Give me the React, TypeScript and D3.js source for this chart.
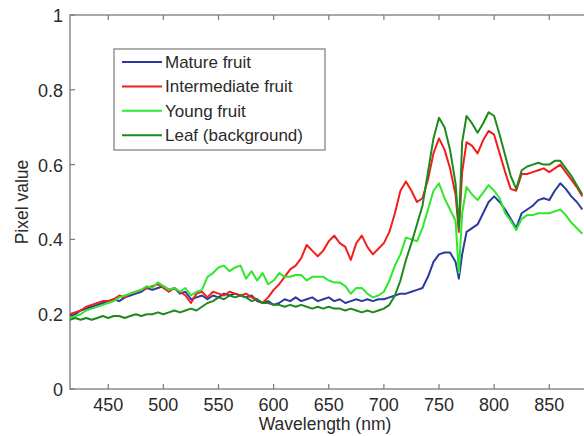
import React from "react";
import * as d3 from "d3";

const wavelengths = [
  415, 420, 425, 430, 435, 440, 445, 450, 455, 460, 465, 470, 475, 480, 485, 490, 495, 500,
  505, 510, 515, 520, 525, 530, 535, 540, 545, 550, 555, 560, 565, 570, 575, 580, 585, 590,
  595, 600, 605, 610, 615, 620, 625, 630, 635, 640, 645, 650, 655, 660, 665, 670, 675, 680,
  685, 690, 695, 700, 705, 710, 715, 720, 725, 730, 735, 740, 745, 750, 755, 760, 765, 768,
  771, 775, 780, 785, 790, 795, 800, 805, 810, 815, 820, 825, 830, 835, 840, 845, 850, 855,
  860, 865, 870, 875, 880,
];

const mature = [
  0.195, 0.2, 0.21, 0.215, 0.22, 0.225, 0.23, 0.235, 0.24, 0.235, 0.245, 0.25, 0.255, 0.26, 0.27, 0.265, 0.27, 0.275,
  0.265, 0.27, 0.255, 0.26, 0.24, 0.245, 0.25, 0.24, 0.25, 0.245, 0.255, 0.25, 0.255, 0.25, 0.245, 0.25, 0.235, 0.23,
  0.235, 0.225, 0.23, 0.24, 0.235, 0.245, 0.235, 0.24, 0.245, 0.235, 0.24, 0.245, 0.235, 0.24, 0.23, 0.235, 0.24, 0.235,
  0.24, 0.235, 0.24, 0.24, 0.245, 0.25, 0.255, 0.255, 0.26, 0.265, 0.27, 0.3, 0.34, 0.36, 0.365, 0.365, 0.34, 0.295,
  0.36, 0.42, 0.43, 0.44, 0.47, 0.5, 0.515, 0.5, 0.48, 0.455, 0.43, 0.47, 0.48, 0.49, 0.505, 0.51, 0.505, 0.53,
  0.55, 0.535, 0.515, 0.5, 0.48,
];

const intermediate = [
  0.2, 0.205, 0.21, 0.22, 0.225, 0.23, 0.235, 0.235, 0.24, 0.25, 0.245, 0.255, 0.26, 0.265, 0.27, 0.275, 0.28, 0.27,
  0.26, 0.27, 0.26, 0.25, 0.23, 0.255, 0.26, 0.245, 0.26, 0.255, 0.25, 0.26, 0.255, 0.25, 0.255, 0.245, 0.24, 0.23,
  0.245, 0.265, 0.28, 0.3, 0.32, 0.33, 0.35, 0.385, 0.37, 0.355, 0.37, 0.395, 0.41, 0.39, 0.38, 0.345, 0.39, 0.41,
  0.38, 0.36, 0.375, 0.39, 0.42, 0.47, 0.53, 0.555, 0.53, 0.5, 0.51, 0.56, 0.63, 0.67, 0.64, 0.59, 0.52, 0.42,
  0.58, 0.66, 0.65, 0.63, 0.665, 0.69, 0.68, 0.63, 0.58, 0.535, 0.53, 0.575, 0.575, 0.58, 0.585, 0.59, 0.58, 0.59,
  0.6, 0.58, 0.56, 0.54, 0.515,
];

const young = [
  0.19, 0.195, 0.2, 0.21, 0.215, 0.22, 0.225, 0.23, 0.235, 0.245, 0.25, 0.255, 0.26, 0.265, 0.275, 0.27, 0.285, 0.275,
  0.265, 0.27, 0.26, 0.27, 0.25, 0.26, 0.265, 0.3, 0.31, 0.325, 0.33, 0.315, 0.325, 0.33, 0.295, 0.315, 0.29, 0.31,
  0.28, 0.29, 0.31, 0.3, 0.3, 0.305, 0.305, 0.29, 0.3, 0.3, 0.3, 0.29, 0.285, 0.285, 0.275, 0.255, 0.27, 0.27,
  0.255, 0.245, 0.25, 0.26, 0.29, 0.33, 0.36, 0.405, 0.4, 0.395, 0.43, 0.48, 0.53, 0.55, 0.51, 0.48, 0.45, 0.31,
  0.47, 0.54, 0.52, 0.505, 0.525, 0.545, 0.53, 0.51, 0.47, 0.45, 0.425, 0.455, 0.465, 0.465, 0.47, 0.47, 0.47, 0.475,
  0.48, 0.465, 0.445, 0.43, 0.415,
];

const leaf = [
  0.185, 0.19, 0.185, 0.19, 0.185, 0.19, 0.195, 0.19, 0.195, 0.195, 0.19, 0.195, 0.2, 0.195, 0.2, 0.2, 0.205, 0.2,
  0.205, 0.21, 0.205, 0.21, 0.215, 0.21, 0.22, 0.23, 0.235, 0.245, 0.24, 0.25, 0.245, 0.25, 0.245, 0.235, 0.24, 0.23,
  0.23, 0.225, 0.225, 0.22, 0.225, 0.22, 0.225, 0.22, 0.215, 0.22, 0.215, 0.22, 0.215, 0.215, 0.21, 0.215, 0.21, 0.205,
  0.21, 0.205, 0.21, 0.215, 0.225, 0.25, 0.29, 0.345, 0.39, 0.44, 0.49, 0.58, 0.67, 0.725, 0.7, 0.64, 0.55, 0.43,
  0.66, 0.73, 0.71, 0.685, 0.71, 0.74, 0.73, 0.68, 0.625, 0.57, 0.535, 0.585, 0.595, 0.6, 0.605, 0.6, 0.6, 0.61,
  0.61, 0.59, 0.57, 0.545, 0.52,
];

const seriesNames = ["Mature fruit", "Intermediate fruit", "Young fruit", "Leaf (background)"];
const seriesColors = ["#2b3a9e", "#f21d1d", "#2ee82e", "#1d8a1d"];
const seriesValues = [mature, intermediate, young, leaf];

const xTicks = [450, 500, 550, 600, 650, 700, 750, 800, 850];
const yTicks = [0, 0.2, 0.4, 0.6, 0.8, 1];
const yTickLabels = ["0", "0.2", "0.4", "0.6", "0.8", "1"];

const W = 584;
const H = 436;
const left = 70;
const top = 15;
const bottom = 389;
const xMin = 415.3;
const xMax = 900;
const pxPerNm = 1.1025;
const right = left + (xMax - xMin) * pxPerNm;

export default function App() {
  const x = d3.scaleLinear().domain([xMin, xMax]).range([left, right]);
  const y = d3.scaleLinear().domain([0, 1]).range([bottom, top]);
  const line = d3
    .line<[number, number]>()
    .x((d) => x(d[0]))
    .y((d) => y(d[1]));

  const axisColor = "#7a7a7a";
  const textColor = "#2a2a2a";
  const font = "Liberation Sans, Arial, sans-serif";

  return (
    <svg
      width={W}
      height={H}
      style={{ position: "absolute", left: 0, top: 0, background: "#fff" }}
      fontFamily={font}
    >
      <defs>
        <clipPath id="plotclip">
          <rect x={left} y={top} width={right - left} height={bottom - top} />
        </clipPath>
      </defs>
      <rect x={left} y={top} width={right - left} height={bottom - top} fill="none" stroke={axisColor} strokeWidth={1.3} />
      {xTicks.map((t) => (
        <g key={"xt" + t}>
          <line x1={x(t)} x2={x(t)} y1={bottom} y2={bottom - 5} stroke={axisColor} strokeWidth={1.2} />
          <line x1={x(t)} x2={x(t)} y1={top} y2={top + 5} stroke={axisColor} strokeWidth={1.2} />
          <text x={x(t)} y={411} textAnchor="middle" fontSize={18} fill={textColor}>
            {t}
          </text>
        </g>
      ))}
      {yTicks.map((t, i) => (
        <g key={"yt" + t}>
          <line x1={left} x2={left + 5} y1={y(t)} y2={y(t)} stroke={axisColor} strokeWidth={1.2} />
          <text x={63} y={y(t) + 7} textAnchor="end" fontSize={18} fill={textColor}>
            {yTickLabels[i]}
          </text>
        </g>
      ))}
      <g clipPath="url(#plotclip)">
        {seriesValues.map((vals, i) => (
          <path
            key={seriesNames[i]}
            d={line(wavelengths.map((w, j) => [w, vals[j]] as [number, number])) || ""}
            fill="none"
            stroke={seriesColors[i]}
            strokeWidth={2}
            strokeLinejoin="round"
          />
        ))}
      </g>
      <text x={325} y={430} textAnchor="middle" fontSize={17.5} fill={textColor}>
        Wavelength (nm)
      </text>
      <text
        transform={`translate(28,202) rotate(-90)`}
        textAnchor="middle"
        fontSize={17.5}
        fill={textColor}
      >
        Pixel value
      </text>
      <rect x={114} y={49} width={211} height={101} fill="#fff" stroke={axisColor} strokeWidth={1.2} />
      {seriesNames.map((n, i) => {
        const ly = 62 + i * 24.4;
        return (
          <g key={"lg" + n}>
            <line x1={122} x2={162} y1={ly} y2={ly} stroke={seriesColors[i]} strokeWidth={2} />
            <text x={165} y={ly + 6} fontSize={17} fill={textColor}>
              {n}
            </text>
          </g>
        );
      })}
    </svg>
  );
}
